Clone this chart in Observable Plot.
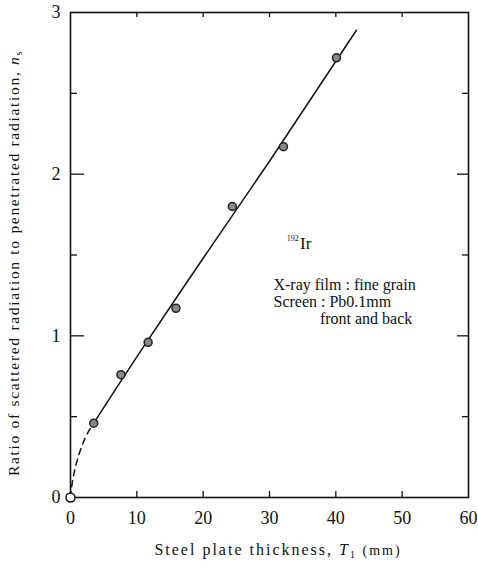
<!DOCTYPE html>
<html><head><meta charset="utf-8">
<script src="https://cdn.jsdelivr.net/npm/d3@7"></script>
<script src="https://cdn.jsdelivr.net/npm/@observablehq/plot@0.6"></script>
<style>body{margin:0;background:#fff;} svg{font-family:"Liberation Serif",serif;}</style>
</head><body><div id="chart"></div>
<script>
// measured points (thickness mm, ratio)
const thickness = [3.5, 7.6, 11.7, 15.9, 24.4, 32.1, 40.1];
const ratio     = [0.46, 0.76, 0.96, 1.17, 1.80, 2.17, 2.72];
// fitted solid line
const lineX = [3.5, 10, 20, 30, 43.1];
const lineY = [0.46, 0.87, 1.48, 2.08, 2.89];
// dashed extrapolation to origin
const dashX = [0, 0.2, 0.6, 1.4, 2.4, 3.5];
const dashY = [0, 0.08, 0.17, 0.29, 0.39, 0.46];
const xTicks = [0, 10, 20, 30, 40, 50, 60];
const yMajor = [0, 1, 2, 3];
const yMinor = [0.5, 1.5, 2.5];
const notes = ["X-ray film : fine grain", "Screen : Pb0.1mm", "front and back"];

const pts = thickness.map((t, i) => ({x: t, y: ratio[i]}));
const line = lineX.map((t, i) => ({x: t, y: lineY[i]}));
const dash = dashX.map((t, i) => ({x: t, y: dashY[i]}));

const W = 478, H = 569, mL = 70, mR = 10, mT = 12, mB = 72;
const iw = W - mL - mR, ih = H - mT - mB;

const plot = Plot.plot({
  width: W, height: H,
  marginLeft: mL, marginRight: mR, marginTop: mT, marginBottom: mB,
  style: {fontFamily: "Liberation Serif, serif", fontSize: "17px", color: "#111"},
  x: {domain: [0, 60]},
  y: {domain: [0, 3]},
  marks: [
    Plot.frame({stroke: "#111", strokeWidth: 1.6}),
    // inward ticks
    Plot.ruleX(xTicks.slice(1, -1), {x: d => d, insetTop: ih - 6, stroke: "#111", strokeWidth: 1.3}),
    Plot.ruleX(xTicks.slice(1, -1), {x: d => d, insetBottom: ih - 5, stroke: "#111", strokeWidth: 1.3}),
    Plot.ruleY(yMajor.slice(1, -1), {y: d => d, insetRight: iw - 14, stroke: "#111", strokeWidth: 1.3}),
    Plot.ruleY(yMinor, {y: d => d, insetRight: iw - 7, stroke: "#111", strokeWidth: 1.3}),
    Plot.ruleY(yMajor.slice(1, -1), {y: d => d, insetLeft: iw - 11, stroke: "#111", strokeWidth: 1.3}),
    Plot.ruleY(yMinor, {y: d => d, insetLeft: iw - 6, stroke: "#111", strokeWidth: 1.3}),
    // labels
    Plot.axisX(xTicks, {anchor: "bottom", tickSize: 0, tickPadding: 14, tickFormat: d => String(d), label: null, fontSize: 18}),
    Plot.axisY(yMajor, {anchor: "left", tickSize: 0, tickPadding: 10, tickFormat: d => String(d), label: null, fontSize: 18}),
    Plot.line(dash, {x: "x", y: "y", curve: "basis", stroke: "#111", strokeWidth: 1.5, strokeDasharray: "6,5"}),
    Plot.line(line, {x: "x", y: "y", curve: "natural", stroke: "#111", strokeWidth: 1.5}),
    Plot.dot(pts, {x: "x", y: "y", r: 4, fill: "#888", stroke: "#222", strokeWidth: 1.5}),
    Plot.dot([{x: 0, y: 0}], {x: "x", y: "y", r: 4.5, fill: "white", stroke: "#111", strokeWidth: 1.5}),
    Plot.text(["Ir"], {x: 34.6, y: 1.57, text: d => d, textAnchor: "start", fontSize: 17}),
    Plot.text(["192"], {x: 34.4, y: 1.57, text: d => d, textAnchor: "end", fontSize: 8, dy: -5}),
    Plot.text([notes[0]], {x: 30.6, y: 1.315, text: d => d, textAnchor: "start", fontSize: 16}),
    Plot.text([notes[1]], {x: 30.6, y: 1.21, text: d => d, textAnchor: "start", fontSize: 16}),
    Plot.text([notes[2]], {x: 37.6, y: 1.105, text: d => d, textAnchor: "start", fontSize: 16})
  ]
});
const svg = d3.select(plot);
const yt = svg.append("text")
  .attr("transform", "translate(19,263) rotate(-90)")
  .attr("text-anchor", "middle").attr("font-size", 15.5).attr("letter-spacing", 1.7)
  .attr("fill", "#111");
yt.append("tspan").text("Ratio of scattered radiation to penetrated radiation, ");
yt.append("tspan").attr("font-style", "italic").text("n");
yt.append("tspan").attr("font-size", 10).attr("dy", 3).text("s");
const xt = svg.append("text")
  .attr("x", 278).attr("y", 555)
  .attr("text-anchor", "middle").attr("font-size", 16).attr("letter-spacing", 2)
  .attr("fill", "#111");
xt.append("tspan").text("Steel plate thickness, ");
xt.append("tspan").attr("font-style", "italic").text("T");
xt.append("tspan").attr("font-size", 10).attr("dy", 3).text("1");
xt.append("tspan").attr("dy", -3).attr("font-size", 14).text(" (mm)");
document.getElementById("chart").appendChild(plot);
</script></body></html>
